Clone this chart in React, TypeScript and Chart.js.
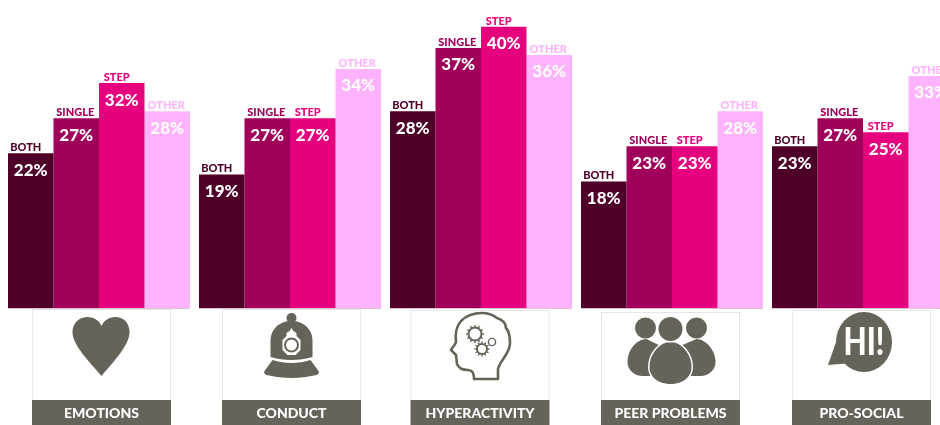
import React, { useEffect, useRef } from "react";
import { Chart, registerables } from "chart.js";

Chart.register(...registerables);

const categories = ["EMOTIONS", "CONDUCT", "HYPERACTIVITY", "PEER PROBLEMS", "PRO-SOCIAL"];
const both = [22, 19, 28, 18, 23];
const single = [27, 27, 37, 23, 27];
const step = [32, 27, 40, 23, 25];
const other = [28, 34, 36, 28, 33];

const seriesNames = ["BOTH", "SINGLE", "STEP", "OTHER"];
const seriesColors = ["#4f0029", "#a0005a", "#e6007e", "#ffb3ff"];
const nameNudge = [-5, -1, -5, -1];
const panelShift = [2.5, 1.5, -1, -1.5, -1.5];
const panelTops = [309, 309, 310, 312, 310];

const FONT = "Lato, 'Open Sans', sans-serif";
const GREY = "#666359";
const BASELINE = 308;
const BAND_TOP = 400;
const BAND_WIDTH = 139;
const GROUP_WIDTH = 182;

function drawHeart(ctx: CanvasRenderingContext2D) {
  ctx.fill(new Path2D("M0 376C-12 362-29 345-29 332C-29 322-21 317-14 317C-7 317-2 321 0 326C2 321 7 317 14 317C21 317 28 322 28 332C28 345 12 362 0 376Z"));
}

function drawHelmet(ctx: CanvasRenderingContext2D) {
  ctx.beginPath();
  ctx.arc(0, 318, 5, 0, Math.PI * 2);
  ctx.fill();
  ctx.fill(new Path2D("M-21 357C-8 361 8 361 21 357L21 341C21 329 12 321 0 321C-12 321-21 329-21 341Z"));
  ctx.fill(new Path2D("M-19 360C-7 364 7 364 19 360L27 371C28 373 27 374 25 375C8 379-8 379-25 375C-27 374-28 373-27 371Z"));
  ctx.fillStyle = "#fff";
  ctx.fill(new Path2D("M-2 331L0 328L2 331L5 333L5 336L9 340L9 350L4 355L-4 355L-9 350L-9 340L-5 336L-5 333Z"));
  ctx.fillStyle = GREY;
  ctx.beginPath();
  ctx.arc(0, 345, 7.5, 0, Math.PI * 2);
  ctx.fill();
  ctx.fillStyle = "#fff";
  ctx.beginPath();
  ctx.arc(0, 345, 5.5, 0, Math.PI * 2);
  ctx.fill();
}

function drawGear(ctx: CanvasRenderingContext2D, x: number, y: number, r: number) {
  ctx.lineWidth = 2;
  ctx.beginPath();
  ctx.arc(x, y, r - 2, 0, Math.PI * 2);
  ctx.stroke();
  ctx.lineWidth = 1.4;
  for (let i = 0; i < 12; i++) {
    const a = (i * Math.PI) / 6;
    ctx.beginPath();
    ctx.moveTo(x + Math.cos(a) * (r - 2), y + Math.sin(a) * (r - 2));
    ctx.lineTo(x + Math.cos(a) * (r + 0.5), y + Math.sin(a) * (r + 0.5));
    ctx.stroke();
  }
}

function drawHead(ctx: CanvasRenderingContext2D) {
  ctx.lineWidth = 2.6;
  ctx.lineJoin = "round";
  ctx.stroke(new Path2D("M18 379L18 369C20 360 30 354 30 343C30 336 29 331 26 328C26 322 20 319 17 318C12 314 8 313 2 313C-6 313-14 316-19 321C-24 327-25 334-24 342C-25 345-28 348-29 350L-24 355L-23 364C-21 369-16 370-12 370C-7 370-6 374-6 379Z"));
  drawGear(ctx, -5, 334, 8.5);
  drawGear(ctx, 2, 349, 7);
  ctx.lineWidth = 1.4;
  ctx.beginPath();
  ctx.arc(12, 342, 3.6, 0, Math.PI * 2);
  ctx.stroke();
}

function drawPeople(ctx: CanvasRenderingContext2D) {
  ctx.beginPath();
  ctx.arc(-25, 328, 10.5, 0, Math.PI * 2);
  ctx.arc(26, 328, 10.5, 0, Math.PI * 2);
  ctx.fill();
  ctx.fill(new Path2D("M-24 339C-34 339-43 350-43 362C-43 370-36 376-28 376L-14 376L-12 345Z"));
  ctx.fill(new Path2D("M26 339C35 339 45 350 45 362C45 370 38 376 30 376L14 376L12 345Z"));
  // White halo keeps the front figure apart from the two behind it.
  const front = new Path2D("M0 342C-11 342-21 354-21 367C-21 378-11 384 0 384C11 384 21 378 21 367C21 354 11 342 0 342Z");
  ctx.strokeStyle = "#fff";
  ctx.lineWidth = 3;
  ctx.stroke(front);
  ctx.fill(front);
  ctx.beginPath();
  ctx.arc(0, 329, 12, 0, Math.PI * 2);
  ctx.stroke();
  ctx.fill();
}

function drawBubble(ctx: CanvasRenderingContext2D) {
  ctx.beginPath();
  ctx.ellipse(2.5, 342, 28, 30, 0, 0, Math.PI * 2);
  ctx.fill();
  ctx.fill(new Path2D("M-23 335L-33.5 365L-9 363Z"));
  ctx.fillStyle = "#fff";
  ctx.font = `900 30px ${FONT}`;
  ctx.textAlign = "center";
  ctx.textBaseline = "middle";
  ctx.translate(2.5, 343);
  ctx.scale(1, 1.25);
  ctx.fillText("HI!", 0, 0);
}

const iconPainters = [drawHeart, drawHelmet, drawHead, drawPeople, drawBubble];

// Icon panels and caption bands below the baseline, one per category.
const panelPlugin = {
  id: "panels",
  beforeDraw(chart: Chart) {
    const { ctx, scales } = chart;
    categories.forEach((label, i) => {
      const groupCentre = scales.x.getPixelForValue(i);
      const cx = groupCentre + panelShift[i];
      const left = cx - BAND_WIDTH / 2;
      ctx.save();
      ctx.fillStyle = "#dcc2d4";
      ctx.fillRect(groupCentre - GROUP_WIDTH / 2, BASELINE, GROUP_WIDTH, 1);
      ctx.strokeStyle = "#e6e6e6";
      ctx.lineWidth = 1;
      ctx.strokeRect(left + 0.5, panelTops[i] + 0.5, BAND_WIDTH - 1, BAND_TOP - panelTops[i]);
      ctx.fillStyle = GREY;
      ctx.fillRect(left, BAND_TOP, BAND_WIDTH, 25);
      ctx.fillStyle = "#fff";
      ctx.font = `900 14px ${FONT}`;
      ctx.textAlign = "center";
      ctx.textBaseline = "middle";
      ctx.fillText(label, cx, 413);
      ctx.translate(cx, 0);
      ctx.fillStyle = GREY;
      ctx.strokeStyle = GREY;
      iconPainters[i](ctx);
      ctx.restore();
    });
  },
};

// Series name above each bar and its percentage inside the bar.
const barLabelPlugin = {
  id: "barLabels",
  afterDatasetsDraw(chart: Chart) {
    const { ctx } = chart;
    chart.data.datasets.forEach((ds, d) => {
      chart.getDatasetMeta(d).data.forEach((bar, i) => {
        const { x, y } = bar.getProps(["x", "y"], true) as { x: number; y: number };
        ctx.save();
        ctx.textAlign = "center";
        ctx.fillStyle = seriesColors[d];
        ctx.font = `900 11px ${FONT}`;
        ctx.textBaseline = "alphabetic";
        ctx.fillText(seriesNames[d], x + nameNudge[d], y - 2);
        ctx.fillStyle = "#fff";
        ctx.font = `900 17px ${FONT}`;
        ctx.textBaseline = "middle";
        ctx.fillText(`${ds.data[i]}%`, x, y + 17);
        ctx.restore();
      });
    });
  },
};

export default function App() {
  const ref = useRef<HTMLCanvasElement>(null);
  useEffect(() => {
    const chart = new Chart(ref.current!, {
      type: "bar",
      data: {
        labels: categories,
        datasets: [both, single, step, other].map((data, d) => ({
          label: seriesNames[d],
          data,
          backgroundColor: seriesColors[d],
          borderWidth: 0,
          barPercentage: 1,
          categoryPercentage: GROUP_WIDTH / 191,
        })),
      },
      options: {
        animation: false,
        responsive: false,
        layout: { padding: { left: 3.5, right: 1.5, top: 0, bottom: 425 - BASELINE } },
        plugins: { legend: { display: false }, tooltip: { enabled: false } },
        scales: {
          x: { display: false },
          y: { display: false, min: 0, max: BASELINE / 7.03 },
        },
      },
      plugins: [panelPlugin, barLabelPlugin],
    });
    return () => chart.destroy();
  }, []);
  return (
    <div style={{ position: "fixed", left: 0, top: 0, width: 940, height: 425, overflow: "hidden", background: "#fff" }}>
      <canvas ref={ref} width={960} height={425} style={{ display: "block" }} />
    </div>
  );
}
